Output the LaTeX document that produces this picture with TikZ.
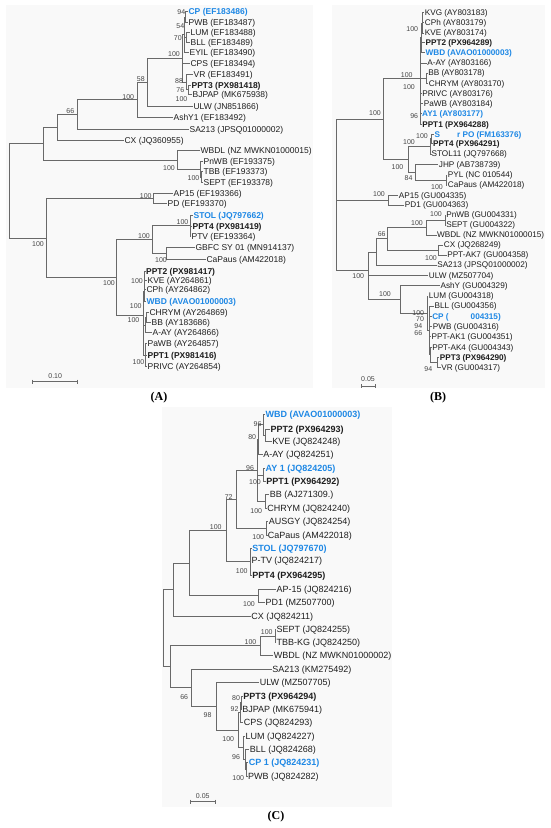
\documentclass[tikz,border=0pt]{standalone}
\usepackage{fontspec}
\setmainfont{Liberation Sans}
\newfontfamily\panelfont{Liberation Serif}
\definecolor{ln}{RGB}{105,105,105}
\definecolor{txt}{RGB}{30,30,30}
\definecolor{lab}{RGB}{70,70,70}
\definecolor{blu}{RGB}{30,136,229}
\definecolor{bgc}{RGB}{249,249,249}
\tikzset{
 lf/.style={anchor=west, inner sep=0.4pt, text depth=0pt, text=txt},
 fa/.style={lf, text height=6.1pt, font=\fontsize{8.5}{10}\selectfont},
 pa/.style={fa, font=\fontsize{8.5}{10}\selectfont\bfseries},
 ba/.style={pa, text=blu},
 fb/.style={lf, text height=5.9pt, font=\fontsize{8.2}{10}\selectfont},
 pb/.style={fb, font=\fontsize{8.2}{10}\selectfont\bfseries},
 bb/.style={pb, text=blu},
 fc/.style={lf, text height=6.45pt, font=\fontsize{9}{11}\selectfont},
 pc/.style={fc, font=\fontsize{9}{11}\selectfont\bfseries},
 bc/.style={pc, text=blu},
 bs/.style={inner sep=0pt, text=lab, font=\fontsize{7}{8}\selectfont},
 br/.style={draw=ln, line width=0.7pt},
 pl/.style={inner sep=0pt, text=black, font=\panelfont\fontsize{12}{14}\selectfont\bfseries},
 bgbox/.style={fill=bgc, draw=none}
}
\newcommand\tbr[2]{\foreach \chd in {#2}{\draw[br] (#1) |- (\chd);}}
\begin{document}
\begin{tikzpicture}[x=1pt,y=-1pt]
\useasboundingbox[fill=white] (0,0) rectangle (550,828);
\fill[bgbox] (6,5) rectangle (313,388);
\fill[bgbox] (332,5) rectangle (545,388);
\fill[bgbox] (162,407) rectangle (392,807);

% ================= Panel A =================
\coordinate (Ar) at (9,190.8);
\coordinate (A1) at (43,143.65);
\coordinate (Ac) at (57,127.3);
\coordinate (A66) at (77,114.55);
\coordinate (A137) at (137,99.8);
\coordinate (A58) at (147,82.6);
\coordinate (A183) at (182.5,58.5);
\coordinate (Atop) at (184,34.75);
\coordinate (A94) at (185.5,17.2);
\coordinate (A70) at (186,37.3);
\coordinate (Abot) at (186,82.2);
\coordinate (Apb) at (188.5,89.65);
\coordinate (Awb) at (177,160);
\coordinate (Asub) at (200.5,169.35);
\coordinate (Ats) at (201.8,177);
\coordinate (A2) at (46,237.95);
\coordinate (Aap) at (153.5,198.35);
\coordinate (A3) at (116.7,277.55);
\coordinate (A152) at (152,239.5);
\coordinate (As4) at (190,225.5);
\coordinate (Ag) at (166.7,253.5);
\coordinate (Ap) at (143.3,315.6);
\coordinate (Au) at (144.2,291);
\coordinate (Ak) at (144.7,280.35);
\coordinate (Ad) at (143.8,340.15);
\coordinate (Ac2) at (145.3,325.1);
\coordinate (Acc) at (146.5,317.5);
\coordinate (App) at (145.8,355.2);

\node[ba] (aCP) at (188,11.7) {CP (EF183486)};
\node[fa] (aPWB) at (188,22.7) {PWB (EF183487)};
\node[fa] (aLUM) at (190,32.3) {LUM (EF183488)};
\node[fa] (aBLL) at (190,42.3) {BLL (EF183489)};
\node[fa] (aEYIL) at (189,52.3) {EYIL (EF183490)};
\node[fa] (aCPS) at (190,63.3) {CPS (EF183494)};
\node[fa] (aVR) at (193,74.7) {VR (EF183491)};
\node[pa] (aPPT3) at (191,85) {PPT3 (PX981418)};
\node[fa] (aBJPAP) at (192,94.3) {BJPAP (MK675938)};
\node[fa] (aULW) at (193,106.7) {ULW (JN851866)};
\node[fa] (aAshY) at (173,117) {AshY1 (EF183492)};
\node[fa] (aSA) at (189,129.3) {SA213 (JPSQ01000002)};
\node[fa] (aCX) at (124,140) {CX (JQ360955)};
\node[fa] (aWBDL) at (200,150.7) {WBDL (NZ MWKN01000015)};
\node[fa] (aPnWB) at (203,161.7) {PnWB (EF193375)};
\node[fa] (aTBB) at (203,171.7) {TBB (EF193373)};
\node[fa] (aSEPT) at (203,182.3) {SEPT (EF193378)};
\node[fa] (aAP15) at (173,193) {AP15 (EF193366)};
\node[fa] (aPD) at (167,203.7) {PD (EF193370)};
\node[ba] (aSTOL) at (193,215) {STOL (JQ797662)};
\node[pa] (aPPT4) at (192,226) {PPT4 (PX981419)};
\node[fa] (aPTV) at (191,236) {PTV (EF193364)};
\node[fa] (aGBFC) at (195,247.7) {GBFC SY 01 (MN914137)};
\node[fa] (aCaP) at (206,259.3) {CaPaus (AM422018)};
\node[pa] (aPPT2) at (145.5,271) {PPT2 (PX981417)};
\node[fa] (aKVE) at (147,280.7) {KVE (AY264861)};
\node[fa] (aCPh) at (146,289.7) {CPh (AY264862)};
\node[ba] (aWBD) at (146,301.7) {WBD (AVAO01000003)};
\node[fa] (aCHRYM) at (149,312.7) {CHRYM (AY264869)};
\node[fa] (aBB) at (151,322.3) {BB (AY183686)};
\node[fa] (aAAY) at (152,332.7) {A-AY (AY264866)};
\node[fa] (aPaWB) at (147,343.7) {PaWB (AY264857)};
\node[pa] (aPPT1) at (147,355) {PPT1 (PX981416)};
\node[fa] (aPRIVC) at (147,366.7) {PRIVC (AY264854)};

\tbr{Ar}{A1,A2}
\tbr{A1}{Ac,Awb}
\tbr{Ac}{A66,aCX}
\tbr{A66}{A137,aSA}
\tbr{A137}{A58,aAshY}
\tbr{A58}{A183,aULW}
\tbr{A183}{Atop,aCPS,Abot}
\tbr{Atop}{A94,A70,aEYIL}
\tbr{A94}{aCP,aPWB}
\tbr{A70}{aLUM,aBLL}
\tbr{Abot}{aVR,Apb}
\tbr{Apb}{aPPT3,aBJPAP}
\tbr{Awb}{aWBDL,Asub}
\tbr{Asub}{aPnWB,Ats}
\tbr{Ats}{aTBB,aSEPT}
\tbr{A2}{Aap,A3}
\tbr{Aap}{aAP15,aPD}
\tbr{A3}{A152,Ap}
\tbr{A152}{As4,Ag}
\tbr{As4}{aSTOL,aPPT4,aPTV}
\tbr{Ag}{aGBFC,aCaP}
\tbr{Ap}{Au,Ad}
\tbr{Au}{Ak,aWBD}
\tbr{Ak}{aPPT2,aKVE,aCPh}
\tbr{Ad}{Ac2,App}
\tbr{Ac2}{Acc,aAAY}
\tbr{Acc}{aCHRYM,aBB}
\tbr{App}{aPaWB,aPPT1,aPRIVC}

\node[bs] (la1) at (181.3,12.3) {94};
\node[bs] (la2) at (180.3,25.7) {54};
\node[bs] (la3) at (177.8,37.7) {70};
\node[bs] (la4) at (174,54.3) {100};
\node[bs] (la5) at (140.8,79) {58};
\node[bs] (la6) at (179,80.7) {88};
\node[bs] (la7) at (180.3,90.3) {76};
\node[bs] (la8) at (181.5,99) {100};
\node[bs] (la9) at (128.3,97.3) {100};
\node[bs] (la10) at (70.3,111) {66};
\node[bs] (la11) at (169,168.3) {100};
\node[bs] (la12) at (193.5,178.3) {100};
\node[bs] (la13) at (145.8,195.7) {100};
\node[bs] (la14) at (182.5,222.3) {100};
\node[bs] (la15) at (144,235.7) {100};
\node[bs] (la16) at (38,244.3) {100};
\node[bs] (la17) at (161,260) {100};
\node[bs] (la18) at (109,283.3) {100};
\node[bs] (la19) at (137,281) {100};
\node[bs] (la20) at (135.8,306) {100};
\node[bs] (la21) at (133.5,320) {100};
\node[bs] (la22) at (138.5,361.7) {100};

\draw[br] (32.7,381.7) -- (77.7,381.7);
\draw[br] (32.7,379.7) -- (32.7,383.7);
\draw[br] (77.7,379.7) -- (77.7,383.7);
\node[bs] (sa) at (55.2,376.5) {0.10};
\node[pl] (pA) at (159,398) {(A)};

% ================= Panel B =================
\coordinate (Br) at (336.7,200);
\coordinate (B383) at (383.3,118.95);
\coordinate (B420) at (420,78.4);
\coordinate (BA) at (421.3,37.8);
\coordinate (BK) at (422.7,22.85);
\coordinate (BBB) at (426.5,78.15);
\coordinate (BAY) at (420.5,119);
\coordinate (B408) at (408,159.4);
\coordinate (BS) at (430.5,146.4);
\coordinate (B1b) at (431.3,138.8);
\coordinate (BJ) at (415,172.2);
\coordinate (BPC) at (446,180);
\coordinate (Bap) at (388.3,200.15);
\coordinate (BV) at (368.3,270);
\coordinate (BX) at (376.7,251.9);
\coordinate (BY) at (387,238.75);
\coordinate (BWB) at (426.7,227.5);
\coordinate (BPS) at (445,220);
\coordinate (BCX) at (438.3,250);
\coordinate (BA2) at (400,299.5);
\coordinate (BL) at (427,313.2);
\coordinate (BC) at (429,330.4);
\coordinate (BK4) at (430,354.8);
\coordinate (BP3) at (437.5,362.3);

\node[fb] (bKVG) at (424.3,12.7) {KVG (AY803183)};
\node[fb] (bCPh) at (424.3,22.7) {CPh (AY803179)};
\node[fb] (bKVE) at (424.3,33) {KVE (AY803174)};
\node[pb] (bPPT2) at (425,42.7) {PPT2 (PX964289)};
\node[bb] (bWBD) at (425,52.7) {WBD (AVAO01000003)};
\node[fb] (bAAY) at (426.7,63) {A-AY (AY803166)};
\node[fb] (bBB) at (427.7,73) {BB (AY803178)};
\node[fb] (bCHRYM) at (428.3,83.3) {CHRYM (AY803170)};
\node[fb] (bPRIVC) at (421.7,93.3) {PRIVC (AY803176)};
\node[fb] (bPaWB) at (423.3,103.3) {PaWB (AY803184)};
\node[bb] (bAY1) at (421.5,113.7) {AY1 (AY803177)};
\node[pb] (bPPT1) at (421.7,124.3) {PPT1 (PX964288)};
\node[bb] (bS) at (434,134.3) {S\hspace{17pt}r PO (FM163376)};
\node[pb] (bPPT4) at (432.5,143.3) {PPT4 (PX964291)};
\node[fb] (bSTOL) at (431,154) {STOL11 (JQ797668)};
\node[fb] (bJHP) at (438.3,164.3) {JHP (AB738739)};
\node[fb] (bPYL) at (447.3,175) {PYL (NC 010544)};
\node[fb] (bCaP) at (447.3,185) {CaPaus (AM422018)};
\node[fb] (bAP15) at (398.3,195.3) {AP15 (GU004335)};
\node[fb] (bPD1) at (404.3,205) {PD1 (GU004363)};
\node[fb] (bPnWB) at (445.7,215) {PnWB (GU004331)};
\node[fb] (bSEPT) at (445.7,225) {SEPT (GU004322)};
\node[fb] (bWBDL) at (436.5,235) {WBDL (NZ MWKN01000015)};
\node[fb] (bCX) at (443.3,245) {CX (JQ268249)};
\node[fb] (bAK7) at (446.7,255) {PPT-AK7 (GU004358)};
\node[fb] (bSA) at (436.7,265) {SA213 (JPSQ01000002)};
\node[fb] (bULW) at (428.3,275.7) {ULW (MZ507704)};
\node[fb] (bAshY) at (440,285.7) {AshY (GU004329)};
\node[fb] (bLUM) at (428.3,296) {LUM (GU004318)};
\node[fb] (bBLL) at (434,306) {BLL (GU004356)};
\node[bb] (bCP) at (431.7,316.7) {CP (\hspace{22pt}004315)};
\node[fb] (bPWB) at (432.3,326.7) {PWB (GU004316)};
\node[fb] (bAK1) at (431,336.7) {PPT-AK1 (GU004351)};
\node[fb] (bAK4) at (431.7,347.3) {PPT-AK4 (GU004343)};
\node[pb] (bPPT3) at (439.3,357.3) {PPT3 (PX964290)};
\node[fb] (bVR) at (440.7,367.3) {VR (GU004317)};

\tbr{Br}{B383,Bap,BV}
\tbr{B383}{B420,B408}
\tbr{B420}{BA,bAAY,BBB,bPRIVC,bPaWB,BAY}
\tbr{BA}{BK,bPPT2,bWBD}
\tbr{BK}{bKVG,bCPh,bKVE}
\tbr{BBB}{bBB,bCHRYM}
\tbr{BAY}{bAY1,bPPT1}
\tbr{B408}{BS,BJ}
\tbr{BS}{B1b,bSTOL}
\tbr{B1b}{bS,bPPT4}
\tbr{BJ}{bJHP,BPC}
\tbr{BPC}{bPYL,bCaP}
\tbr{Bap}{bAP15,bPD1}
\tbr{BV}{BX,bULW,BA2}
\tbr{BX}{BY,bSA}
\tbr{BY}{BWB,BCX}
\tbr{BWB}{BPS,bWBDL}
\tbr{BPS}{bPnWB,bSEPT}
\tbr{BCX}{bCX,bAK7}
\tbr{BA2}{bAshY,BL}
\tbr{BL}{bLUM,BC}
\tbr{BC}{bBLL,bCP,bPWB,bAK1,BK4}
\tbr{BK4}{bAK4,BP3}
\tbr{BP3}{bPPT3,bVR}

\node[bs] (lb1) at (412.3,29.3) {100};
\node[bs] (lb2) at (406.7,75) {100};
\node[bs] (lb3) at (409,87.3) {100};
\node[bs] (lb4) at (375,113.3) {100};
\node[bs] (lb5) at (414.2,115.7) {96};
\node[bs] (lb6) at (422,136) {100};
\node[bs] (lb7) at (409,142) {100};
\node[bs] (lb8) at (397.5,166.7) {100};
\node[bs] (lb9) at (408.5,177.7) {84};
\node[bs] (lb10) at (437,186.7) {100};
\node[bs] (lb11) at (379,194.3) {100};
\node[bs] (lb12) at (436,214.3) {100};
\node[bs] (lb13) at (417,223.3) {100};
\node[bs] (lb14) at (381.7,234.3) {66};
\node[bs] (lb15) at (431,257.7) {100};
\node[bs] (lb16) at (358.3,276) {100};
\node[bs] (lb17) at (385,294) {100};
\node[bs] (lb18) at (418.3,312.7) {100};
\node[bs] (lb19) at (420,319.3) {70};
\node[bs] (lb20) at (418.3,326) {94};
\node[bs] (lb21) at (418.3,332.7) {66};
\node[bs] (lb22) at (428.3,369.3) {94};

\draw[br] (361,386) -- (375,386);
\draw[br] (361,384) -- (361,388);
\draw[br] (375,384) -- (375,388);
\node[bs] (sb) at (368,379.5) {0.05};
\node[pl] (pB) at (438,398) {(B)};

% ================= Panel C =================
\coordinate (Cr) at (163.3,628.1);
\coordinate (CR1) at (173.3,589.6);
\coordinate (CM) at (189.3,563.15);
\coordinate (C100) at (226,530.65);
\coordinate (C72) at (236.7,499.6);
\coordinate (C96b) at (257.5,470.4);
\coordinate (C80) at (258.3,439.5);
\coordinate (C96a) at (263.3,424.7);
\coordinate (CX1) at (265,435.35);
\coordinate (CAY) at (263.5,475);
\coordinate (CBB) at (265.5,501.3);
\coordinate (CAU) at (266.5,528.7);
\coordinate (CST) at (250.2,561.65);
\coordinate (CAP) at (258.3,595.65);
\coordinate (CL2) at (170.7,666.55);
\coordinate (CW) at (260,645.4);
\coordinate (CSE) at (275.2,635.85);
\coordinate (C66) at (191.7,687.7);
\coordinate (C98) at (216,706.4);
\coordinate (CB) at (238.3,730.1);
\coordinate (CU3) at (240,712.6);
\coordinate (CPB) at (241,702.5);
\coordinate (CL3) at (243.5,747.65);
\coordinate (CBL) at (245.5,759.35);
\coordinate (CCP) at (246.8,769.35);

\node[bc] (cWBD) at (265,414) {WBD (AVAO01000003)};
\node[pc] (cPPT2) at (270,429) {PPT2 (PX964293)};
\node[fc] (cKVE) at (271.7,441.5) {KVE (JQ824248)};
\node[fc] (cAAY) at (262.7,454.3) {A-AY (JQ824251)};
\node[bc] (cAY1) at (265,468.3) {AY 1 (JQ824205)};
\node[pc] (cPPT1) at (265.7,481.7) {PPT1 (PX964292)};
\node[fc] (cBB) at (269.3,494.3) {BB (AJ271309.)};
\node[fc] (cCHRYM) at (266.7,508.3) {CHRYM (JQ824240)};
\node[fc] (cAUS) at (268.3,521.7) {AUSGY (JQ824254)};
\node[fc] (cCaP) at (267.3,535.7) {CaPaus (AM422018)};
\node[bc] (cSTOL) at (251.7,548.3) {STOL (JQ797670)};
\node[fc] (cPTV) at (250.9,560.7) {P-TV (JQ824217)};
\node[pc] (cPPT4) at (251.7,575) {PPT4 (PX964295)};
\node[fc] (cAP15) at (276,589) {AP-15 (JQ824216)};
\node[fc] (cPD1) at (265,602.3) {PD1 (MZ507700)};
\node[fc] (cCX) at (250.7,616) {CX (JQ824211)};
\node[fc] (cSEPT) at (276,629) {SEPT (JQ824255)};
\node[fc] (cTBB) at (276,642.7) {TBB-KG (JQ824250)};
\node[fc] (cWBDL) at (273.3,655) {WBDL (NZ MWKN01000002)};
\node[fc] (cSA) at (271.7,669) {SA213 (KM275492)};
\node[fc] (cULW) at (259.3,682.7) {ULW (MZ507705)};
\node[pc] (cPPT3) at (242.7,696) {PPT3 (PX964294)};
\node[fc] (cBJPAP) at (241.7,709) {BJPAP (MK675941)};
\node[fc] (cCPS) at (243.3,722.7) {CPS (JQ824293)};
\node[fc] (cLUM) at (245,736) {LUM (JQ824227)};
\node[fc] (cBLL) at (249.3,749.3) {BLL (JQ824268)};
\node[bc] (cCP1) at (248.3,762.7) {CP 1 (JQ824231)};
\node[fc] (cPWB) at (247.5,776) {PWB (JQ824282)};

\tbr{Cr}{CR1,CL2}
\tbr{CR1}{CM,cCX}
\tbr{CM}{C100,CAP}
\tbr{C100}{C72,CST}
\tbr{C72}{C96b,CAU}
\tbr{C96b}{C80,CAY,CBB}
\tbr{C80}{C96a,cAAY}
\tbr{C96a}{cWBD,CX1}
\tbr{CX1}{cPPT2,cKVE}
\tbr{CAY}{cAY1,cPPT1}
\tbr{CBB}{cBB,cCHRYM}
\tbr{CAU}{cAUS,cCaP}
\tbr{CST}{cSTOL,cPTV,cPPT4}
\tbr{CAP}{cAP15,cPD1}
\tbr{CL2}{CW,C66}
\tbr{CW}{CSE,cWBDL}
\tbr{CSE}{cSEPT,cTBB}
\tbr{C66}{cSA,C98}
\tbr{C98}{cULW,CB}
\tbr{CB}{CU3,CL3}
\tbr{CU3}{CPB,cCPS}
\tbr{CPB}{cPPT3,cBJPAP}
\tbr{CL3}{cLUM,CBL}
\tbr{CBL}{cBLL,CCP}
\tbr{CCP}{cCP1,cPWB}

\node[bs] (lc1) at (257.5,424) {96};
\node[bs] (lc2) at (252.2,437.3) {80};
\node[bs] (lc3) at (250,467.7) {96};
\node[bs] (lc4) at (255,481.7) {100};
\node[bs] (lc5) at (228.7,496.7) {72};
\node[bs] (lc6) at (256.2,510.7) {100};
\node[bs] (lc7) at (215.8,527.3) {100};
\node[bs] (lc8) at (258.3,537.3) {100};
\node[bs] (lc9) at (241.7,571) {100};
\node[bs] (lc10) at (249,604.3) {100};
\node[bs] (lc11) at (266.8,631.7) {100};
\node[bs] (lc12) at (250.5,642.3) {100};
\node[bs] (lc13) at (184.2,696.7) {66};
\node[bs] (lc14) at (236,698.3) {80};
\node[bs] (lc15) at (234.5,709) {92};
\node[bs] (lc16) at (207.5,715) {98};
\node[bs] (lc17) at (228.3,739.3) {100};
\node[bs] (lc18) at (236,756.7) {96};
\node[bs] (lc19) at (238.3,778.3) {100};

\draw[br] (190,801.7) -- (215.7,801.7);
\draw[br] (190,799.7) -- (190,803.7);
\draw[br] (215.7,799.7) -- (215.7,803.7);
\node[bs] (sc) at (202.8,796) {0.05};
\node[pl] (pC) at (276,816.7) {(C)};
\end{tikzpicture}
\end{document}
